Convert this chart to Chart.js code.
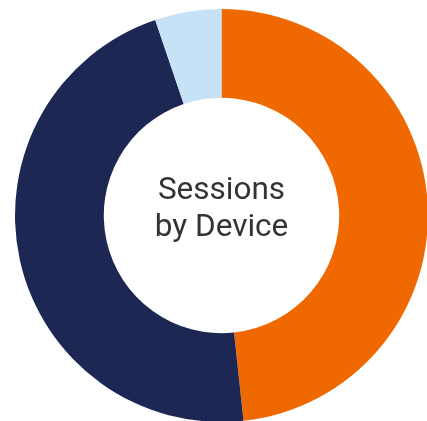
<!DOCTYPE html>
<html>
<head>
<meta charset="utf-8">
<script src="https://cdn.jsdelivr.net/npm/chart.js@4/dist/chart.umd.min.js"></script>
<style>
    html, body { margin: 0; padding: 0; background: #fff; overflow: hidden; }
    #wrap { position: absolute; left: 0; top: 0; width: 437px; height: 431px; }
    #centerText {
        position: absolute; left: 121px; top: 170px; width: 201px;
        text-align: center; font-family: Roboto, sans-serif; font-size: 31.5px;
        line-height: 37px; color: #333333;
    }
</style>
</head>
<body>
<div id="wrap">
    <canvas id="donut" width="437" height="431"></canvas>
    <div id="centerText">Sessions<br>by Device</div>
</div>
<script>
// sessions share per device
var devices = ["Desktop", "Mobile", "Tablet"];
var sessions = [48.3, 46.5, 5.2];
var colors = ["#F06900", "#1C2853", "#C7E1F6"];

var ctx = document.getElementById("donut").getContext("2d");
var donutChart = new Chart(ctx, {
    type: 'doughnut',
    data: {
        labels: devices,
        datasets: [
            {
                data: sessions,
                backgroundColor: colors,
                borderWidth: 0
            }
        ]
    },
    options: {
        responsive: false,
        animation: false,
        cutout: '57%',
        layout: { padding: { left: 15, right: 9, top: 9, bottom: 9 } },
        plugins: {
            legend: { display: false },
            tooltip: { enabled: false }
        }
    }
});
</script>
</body>
</html>
